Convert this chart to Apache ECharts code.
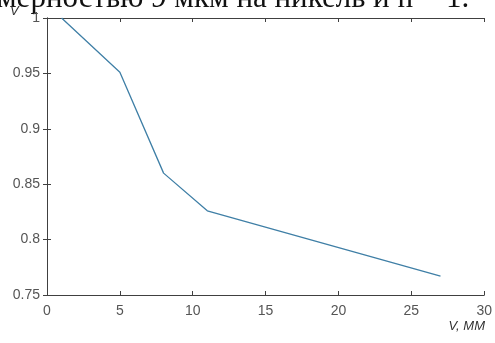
<!DOCTYPE html>
<html><head><meta charset="utf-8">
<script src="https://cdn.jsdelivr.net/npm/echarts@6/dist/echarts.min.js"></script>
<style>html,body{margin:0;padding:0;background:#fff}#c{width:495px;height:343px}</style>
</head><body><div id="c"></div>
<script>
const xValues = [1, 5, 8, 11, 27];
const yValues = [1.0, 0.951, 0.86, 0.826, 0.767];
const headerText = 'мерностью 9 мкм на никель и n = 1.';
const xName = 'V, MM';
const yName = 'V';

const chart = echarts.init(document.getElementById('c'), null, {renderer: 'canvas'});
const axisCol = '#404040';
const labCol = '#555555';
const labelFont = {color: labCol, fontSize: 14, fontFamily: 'Liberation Sans'};
chart.setOption({
  animation: false,
  grid: {left: 47, right: 10, top: 18, bottom: 48, containLabel: false},
  graphic: [
    {type: 'text', left: -3, top: -17, style: {text: headerText, fontFamily: 'Liberation Serif', fontSize: 31, fill: '#111'}},
    {type: 'text', left: 10, top: 5, style: {text: yName, fontFamily: 'Liberation Sans', fontStyle: 'italic', fontSize: 13, fill: '#333'}},
    {type: 'text', right: 10, top: 320, style: {text: xName, fontFamily: 'Liberation Sans', fontStyle: 'italic', fontSize: 13, fill: '#333'}}
  ],
  xAxis: [
    {type: 'value', min: 0, max: 30, interval: 5, position: 'bottom',
     axisLine: {show: true, lineStyle: {color: axisCol, width: 1}},
     axisTick: {show: true, inside: true, length: 4, lineStyle: {color: axisCol}},
     axisLabel: Object.assign({margin: 9}, labelFont),
     splitLine: {show: false}},
    {type: 'value', min: 0, max: 30, interval: 5, position: 'top',
     axisLine: {show: true, lineStyle: {color: axisCol, width: 1}},
     axisTick: {show: true, inside: true, length: 4, lineStyle: {color: axisCol}},
     axisLabel: {show: false}, splitLine: {show: false}}
  ],
  yAxis: [
    {type: 'value', min: 0.75, max: 1, interval: 0.05, position: 'left',
     axisLine: {show: true, lineStyle: {color: axisCol, width: 1}},
     axisTick: {show: true, inside: true, length: 4, lineStyle: {color: axisCol}},
     axisLabel: Object.assign({margin: 7}, labelFont),
     splitLine: {show: false}},
    {type: 'value', min: 0.75, max: 1, interval: 0.05, position: 'right',
     axisLine: {show: true, lineStyle: {color: axisCol, width: 1}},
     axisTick: {show: true, inside: true, length: 4, lineStyle: {color: axisCol}},
     axisLabel: {show: false}, splitLine: {show: false}}
  ],
  series: [{
    type: 'line', xAxisIndex: 0, yAxisIndex: 0,
    data: xValues.map((x, i) => [x, yValues[i]]),
    showSymbol: false, symbol: 'none',
    lineStyle: {color: '#3f7fa6', width: 1.3}
  }]
});
</script></body></html>
